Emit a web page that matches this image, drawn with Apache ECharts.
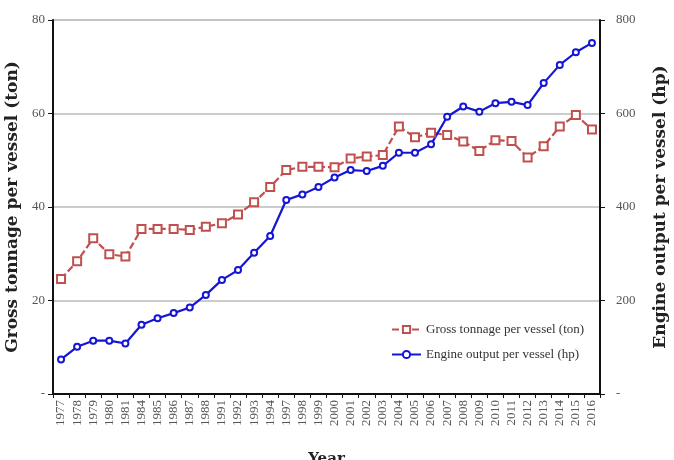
<!DOCTYPE html>
<html>
<head>
<meta charset="utf-8">
<script src="https://cdn.jsdelivr.net/npm/echarts@6/dist/echarts.min.js"></script>
<style>html,body{margin:0;padding:0;background:#fff}#c{width:674px;height:460px}</style>
</head>
<body>
<div id="c"></div>
<script>
const years = ['1977','1978','1979','1980','1981','1984','1985','1986','1987','1988','1991','1992','1993','1994','1997','1998','1999','2000','2001','2002','2003','2004','2005','2006','2007','2008','2009','2010','2011','2012','2013','2014','2015','2016'];
const grossTonnage = [24.6,28.4,33.3,29.9,29.4,35.3,35.3,35.3,35.1,35.8,36.5,38.4,41.0,44.3,47.9,48.6,48.6,48.5,50.4,50.8,51.1,57.2,54.9,55.9,55.4,54.0,52.0,54.3,54.1,50.6,53.0,57.2,59.7,56.6];
const engineOutput = [74,101,114,114,108,148,162,173,185,212,244,265,302,338,415,427,443,463,479,477,488,516,516,534,593,615,604,622,625,618,665,704,731,751];
const leftTicks = {0:'-',20:'20',40:'40',60:'60',80:'80'};
const rightTicks = {0:'-',200:'200',400:'400',600:'600',800:'800'};

const chart = echarts.init(document.getElementById('c'));
chart.setOption({
  animation: false,
  backgroundColor: '#fff',
  grid: {left: 53, right: 74, top: 20, bottom: 66, outerBoundsMode: 'none', containLabel: false, show: true, borderColor: '#bbb', borderWidth: 1},
  legend: {
    orient: 'vertical', left: 386, top: 318, itemGap: 12, itemWidth: 29, itemHeight: 9,
    textStyle: {fontFamily: 'Liberation Serif', fontSize: 13, color: '#333'},
    data: ['Gross tonnage per vessel (ton)', 'Engine output per vessel (hp)']
  },
  xAxis: {
    type: 'category', data: years, boundaryGap: true,
    name: 'Year', nameLocation: 'middle', nameGap: 58,
    nameTextStyle: {fontFamily: 'DejaVu Serif', fontWeight: 'bold', fontSize: 15, color: '#222'},
    axisLine: {lineStyle: {color: '#111', width: 2}},
    axisTick: {show: true, interval: 0, length: 4, lineStyle: {color: '#111'}},
    axisLabel: {interval: 0, rotate: 90, fontFamily: 'Liberation Serif', fontSize: 13, color: '#555', margin: 6}
  },
  yAxis: [{
    type: 'value', min: 0, max: 80, interval: 20, position: 'left',
    name: 'Gross tonnage per vessel (ton)', nameLocation: 'middle', nameGap: 31, nameRotate: 90,
    nameTextStyle: {fontFamily: 'DejaVu Serif', fontWeight: 'bold', fontSize: 17, color: '#222'},
    axisLine: {show: true, lineStyle: {color: '#111', width: 2}},
    axisTick: {show: true, length: 5, lineStyle: {color: '#111'}},
    axisLabel: {fontFamily: 'Liberation Serif', fontSize: 13, color: '#555', margin: 8, formatter: v => leftTicks[v] ?? String(v)},
    splitLine: {show: true, lineStyle: {color: '#bbb', width: 1.5}}
  }, {
    type: 'value', min: 0, max: 800, interval: 200, position: 'right',
    name: 'Engine output per vessel (hp)', nameLocation: 'middle', nameGap: 52, nameRotate: 90,
    nameTextStyle: {fontFamily: 'DejaVu Serif', fontWeight: 'bold', fontSize: 17, color: '#222'},
    axisLine: {show: true, lineStyle: {color: '#111', width: 2}},
    axisTick: {show: true, length: 5, lineStyle: {color: '#111'}},
    axisLabel: {fontFamily: 'Liberation Sans Narrow', fontSize: 13, color: '#555', margin: 16, formatter: v => rightTicks[v] ?? String(v)},
    splitLine: {show: false}
  }],
  series: [{
    name: 'Gross tonnage per vessel (ton)', type: 'line', yAxisIndex: 0, data: grossTonnage,
    symbol: 'emptyRect', symbolSize: 8,
    lineStyle: {color: '#c0504d', width: 2.2, type: [7, 3]},
    itemStyle: {color: '#c0504d', borderWidth: 1}
  }, {
    name: 'Engine output per vessel (hp)', type: 'line', yAxisIndex: 1, data: engineOutput,
    symbol: 'emptyCircle', symbolSize: 6,
    lineStyle: {color: '#1515d6', width: 2.2},
    itemStyle: {color: '#1515d6', borderWidth: 1}
  }]
});
</script>
</body>
</html>
